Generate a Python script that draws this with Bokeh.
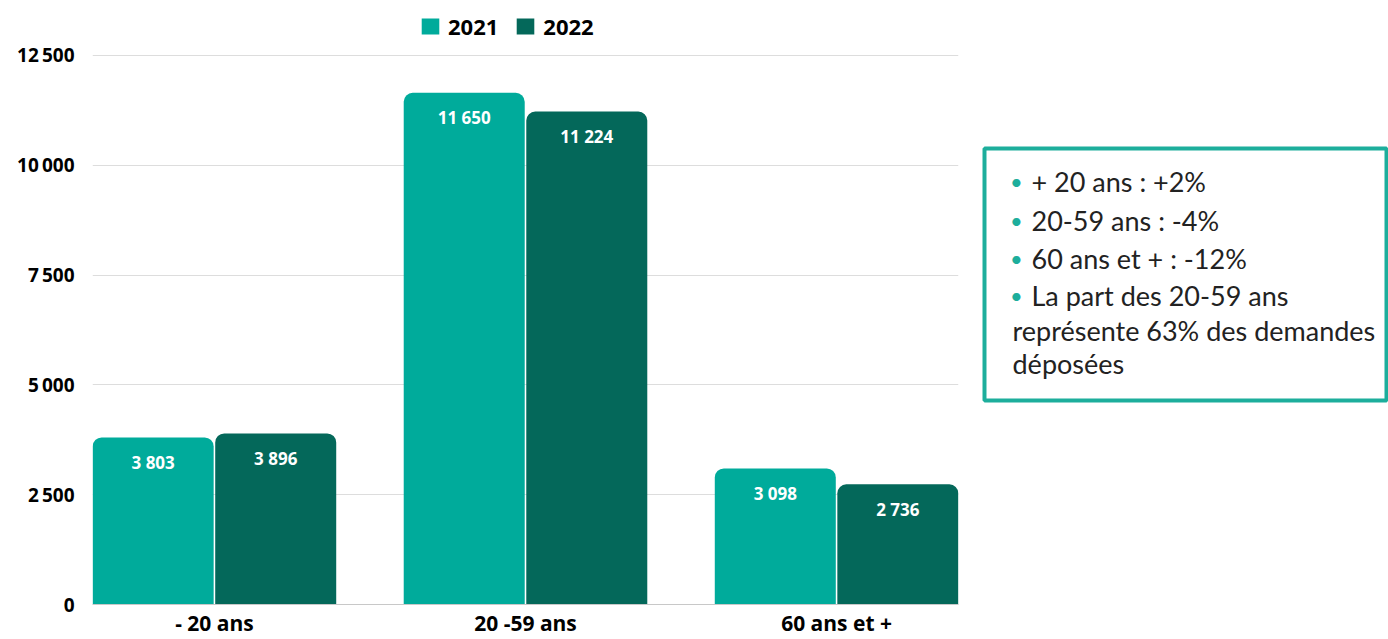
from bokeh.plotting import figure
from bokeh.models import Range1d, FixedTicker, ColumnDataSource, Legend, LegendItem
from bokeh.layouts import row
from bokeh.embed import file_html
from bokeh.resources import INLINE
from bokeh.core.properties import value

categories = ["- 20 ans", "20 -59 ans", "60 ans et +"]
series_names = ["2021", "2022"]
values_2021 = [3803, 11650, 3098]
values_2022 = [3896, 11224, 2736]
y_ticks = [0, 2500, 5000, 7500, 10000, 12500]
y_tick_labels = ["0", "2\u2009500", "5\u2009000", "7\u2009500", "10\u2009000", "12\u2009500"]
notes_bullets = ["+ 20 ans : +2%", "20-59 ans : -4%", "60 ans et + : -12%", "La part des 20-59 ans"]
notes_wrapped = ["représente 63% des demandes", "déposées"]

C2021 = "#00AB9B"
C2022 = "#04685A"
BOX = "#1DAE9C"
FONT = "Open Sans"

def fmt(v):
    return f"{v:,}".replace(",", " ")

xs = list(range(len(categories)))
off = 0.197
bw = 0.389

p = figure(width=970, height=639, output_backend="svg", toolbar_location=None,
           x_range=Range1d(-0.392, 2.392), y_range=Range1d(0, 13752),
           min_border_left=92, min_border_right=12, min_border_top=0, min_border_bottom=35)
p.outline_line_color = None
p.background_fill_color = "white"
p.border_fill_color = "white"

src1 = ColumnDataSource(dict(x=[x - off for x in xs], top=values_2021, lab=[fmt(v) for v in values_2021]))
src2 = ColumnDataSource(dict(x=[x + off for x in xs], top=values_2022, lab=[fmt(v) for v in values_2022]))

r1 = p.vbar(x="x", top="top", width=bw, source=src1, fill_color=C2021, line_color=None,
            border_radius=(9, 9, 0, 0))
r2 = p.vbar(x="x", top="top", width=bw, source=src2, fill_color=C2022, line_color=None,
            border_radius=(9, 9, 0, 0))

for s in (src1, src2):
    p.text(x="x", y="top", text="lab", source=s, text_color="white", text_font=value(FONT),
           text_font_style="bold", text_font_size="17px", text_align="center",
           text_baseline="middle", y_offset=25)

p.xaxis.ticker = FixedTicker(ticks=xs)
p.xaxis.major_label_overrides = {i: c for i, c in enumerate(categories)}
p.xaxis.major_label_text_font = FONT
p.xaxis.major_label_text_font_style = "bold"
p.xaxis.major_label_text_font_size = "21px"
p.xaxis.major_label_text_color = "black"
p.xaxis.major_tick_line_color = None
p.xaxis.major_tick_out = 0
p.xaxis.major_tick_in = 0
p.xaxis.minor_tick_line_color = None
p.xaxis.minor_tick_out = 0
p.xaxis.axis_line_color = "#c8c8c8"
p.xaxis.major_label_standoff = 4

p.yaxis.ticker = FixedTicker(ticks=y_ticks)
p.yaxis.major_label_overrides = {t: l for t, l in zip(y_ticks, y_tick_labels)}
p.yaxis.major_label_text_font = FONT
p.yaxis.major_label_text_font_style = "bold"
p.yaxis.major_label_text_font_size = "19px"
p.yaxis.major_label_text_color = "black"
p.yaxis.major_tick_line_color = None
p.yaxis.major_tick_out = 0
p.yaxis.major_tick_in = 0
p.yaxis.minor_tick_line_color = None
p.yaxis.minor_tick_out = 0
p.yaxis.axis_line_color = None
p.yaxis.major_label_standoff = 18

p.xgrid.grid_line_color = None
p.ygrid.ticker = FixedTicker(ticks=y_ticks)
p.ygrid.grid_line_color = "#dddddd"

legend = Legend(items=[LegendItem(label=series_names[0], renderers=[r1]),
                       LegendItem(label=series_names[1], renderers=[r2])],
                orientation="horizontal", location=(327, 563))
legend.padding = 0
legend.margin = 0
legend.spacing = 16
legend.glyph_width = 22
legend.glyph_height = 20
legend.label_height = 20
legend.label_standoff = 7
legend.border_line_color = None
legend.background_fill_alpha = 0
legend.label_text_font = FONT
legend.label_text_font_style = "bold"
legend.label_text_font_size = "22px"
legend.label_text_color = "black"
p.add_layout(legend, "center")

# notes box (same frame height as the chart so the row keeps both aligned; data units = pixels)
q = figure(width=418, height=639, output_backend="svg", toolbar_location=None,
           x_range=Range1d(0, 418), y_range=Range1d(604, 0),
           min_border_left=0, min_border_right=0, min_border_top=0, min_border_bottom=35)
q.axis.visible = False
q.grid.visible = False
q.outline_line_color = None
q.border_fill_color = "white"
q.background_fill_color = "white"

box_left, box_right, box_top, box_bottom = [14], [416], [148], [400]
q.quad(left=box_left, right=box_right, top=box_top, bottom=box_bottom,
       fill_color="white", line_color=BOX, line_width=4)

bullet_y = [181, 220, 258, 295]
wrap_y = [330, 363]
q.text(x=[46] * len(notes_bullets), y=bullet_y, text=["•"] * len(notes_bullets), text_color=BOX,
       text_font=value("Lato"), text_font_size="22px", text_baseline="middle", text_align="center")
q.text(x=[61] * len(notes_bullets), y=bullet_y, text=notes_bullets, text_color="#222222",
       text_font=value("Lato"), text_font_size="27px", text_baseline="middle", text_align="left")
q.text(x=[42] * len(notes_wrapped), y=wrap_y, text=notes_wrapped, text_color="#222222",
       text_font=value("Lato"), text_font_size="27px", text_baseline="middle", text_align="left")

layout = row(p, q, spacing=0)
open("out.html", "w").write(file_html(layout, INLINE))
